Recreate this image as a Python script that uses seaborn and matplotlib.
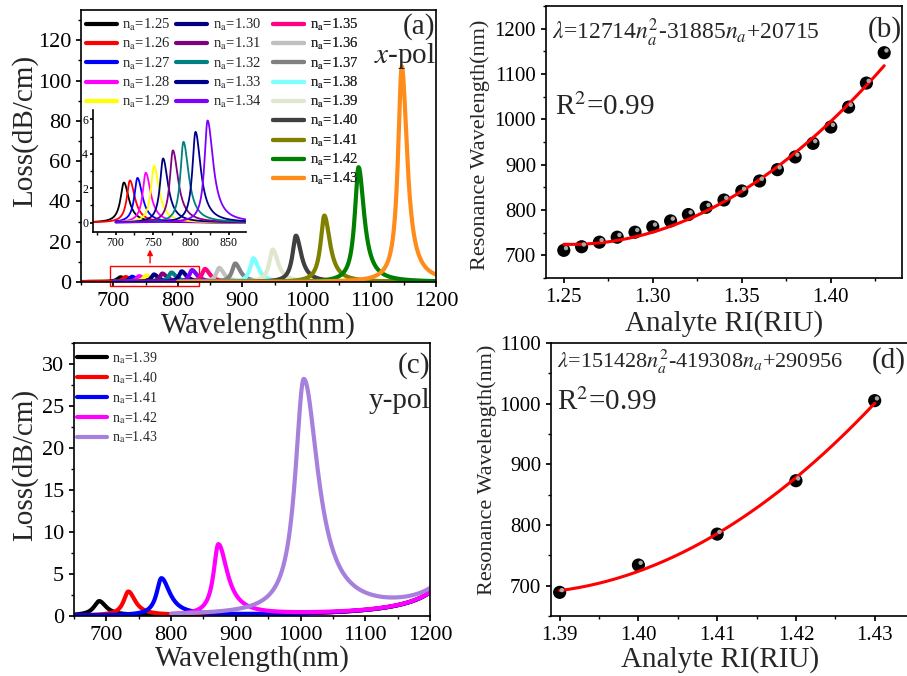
import matplotlib
matplotlib.use("Agg")
import matplotlib.pyplot as plt
import matplotlib.patches as patches
from matplotlib.lines import Line2D
from matplotlib.ticker import MultipleLocator
from matplotlib.transforms import offset_copy
import numpy as np
import pandas as pd
import seaborn as sns

## Data
# x-pol: analyte RI, resonance wavelength (nm), peak loss (dB/cm), half widths (nm)
ri_x = [1.25, 1.26, 1.27, 1.28, 1.29, 1.30, 1.31, 1.32, 1.33, 1.34,
        1.35, 1.36, 1.37, 1.38, 1.39, 1.40, 1.41, 1.42, 1.43]
res_x = [711, 719, 729, 740, 751, 763, 776, 790, 806, 822,
         842, 864, 889, 917, 947, 983, 1027, 1080, 1147]
peak_x = [2.33, 2.45, 2.6, 2.9, 3.3, 3.73, 4.2, 4.7, 5.28, 5.94,
          6.5, 7.0, 9.2, 11.8, 16.1, 23.0, 33.0, 57.0, 107.0]
hw_left_x = [5.5, 5, 5, 5, 5, 5, 5, 5, 5, 5,
             5.5, 5.5, 6, 6, 6.5, 6.5, 7, 7, 7]
hw_right_x = [8, 8, 8, 8, 8, 8, 8.5, 8.5, 8.5, 9,
              9, 9, 9.5, 9.5, 10, 10, 10.5, 10.5, 10]
start_x = [660, 650, 700, 700, 700, 700, 700, 700, 700, 700,
           800, 800, 800, 800, 800, 800, 800, 800, 800]
colors_x = ["#000000", "#ff0000", "#0000ff", "#ff00ff", "#ffff00", "#000080",
            "#800080", "#008080", "#00008b", "#8000ff", "#ff0080", "#c0c0c0",
            "#808080", "#80ffff", "#dfe8cf", "#404040", "#808000", "#008000",
            "#ff8c1a"]
fit_x = [12714, -31885, 20715]

# y-pol
ri_y = [1.39, 1.40, 1.41, 1.42, 1.43]
res_y = [689, 734, 785, 873, 1005]
peak_y = [1.7, 2.83, 4.4, 8.4, 27.9]
hw_left_y = [10, 9, 9, 9, 16]
hw_right_y = [13, 13, 16, 17, 27]
start_y = [650, 650, 650, 800, 800]
colors_y = ["#000000", "#ff0000", "#0000ff", "#ff00ff", "#a77fdc"]
fit_y = [151428, -419308, 290956]
# rising loss background towards long wavelengths (y-pol)
bg_center, bg_width, bg_height = 1290, 40, 17


def spectra(ri, res, peak, hwl, hwr, start, bg=None):
    wl = np.arange(650, 1200.5, 0.5)
    frames = []
    for r, c, h, wa, wb, x0 in zip(ri, res, peak, hwl, hwr, start):
        x = wl[wl >= x0]
        w = np.where(x < c, wa, wb)
        y = h / (1 + ((x - c) / w) ** 2)
        if bg is not None:
            y = y + bg[2] / (1 + ((x - bg[0]) / bg[1]) ** 2)
        frames.append(pd.DataFrame({"wl": x, "loss": y, "ri": f"{r:.2f}"}))
    return pd.concat(frames, ignore_index=True)


df_x = spectra(ri_x, res_x, peak_x, hw_left_x, hw_right_x, start_x)
df_y = spectra(ri_y, res_y, peak_y, hw_left_y, hw_right_y, start_y,
               bg=(bg_center, bg_width, bg_height))
pal_x = dict(zip([f"{r:.2f}" for r in ri_x], colors_x))
pal_y = dict(zip([f"{r:.2f}" for r in ri_y], colors_y))

sns.set_theme(style="ticks")
plt.rcParams["font.family"] = ["Liberation Serif", "DejaVu Serif"]
plt.rcParams["mathtext.fontset"] = "stix"
plt.rcParams["axes.linewidth"] = 1.2
plt.rcParams["axes.edgecolor"] = "black"
plt.rcParams["xtick.color"] = "black"
plt.rcParams["ytick.color"] = "black"
plt.rcParams["xtick.major.size"] = 3.6
plt.rcParams["ytick.major.size"] = 3.6
plt.rcParams["xtick.minor.size"] = 2.2
plt.rcParams["ytick.minor.size"] = 2.2

W, H = 907, 676
fig = plt.figure(figsize=(W / 100, H / 100), dpi=100)


def box(l, t, r, b):
    return [l / W, 1 - b / H, (r - l) / W, (b - t) / H]


ax_a = fig.add_axes(box(81, 10, 436, 282))
ax_b = fig.add_axes(box(546, 6, 902, 278))
ax_c = fig.add_axes(box(74, 343, 430, 616))
ax_d = fig.add_axes(box(551, 343, 907, 616))
ax_in = fig.add_axes(box(93, 110, 246, 232))

for ax in (ax_a, ax_b, ax_c, ax_d):
    for s in ax.spines.values():
        s.set_visible(True)
        s.set_color("black")

# (a) x-pol spectra
sns.lineplot(data=df_x, x="wl", y="loss", hue="ri", palette=pal_x,
             linewidth=3, legend=False, estimator=None, ax=ax_a)
ax_a.set_xlim(650, 1200)
ax_a.set_ylim(0, 135)
ax_a.xaxis.set_major_locator(MultipleLocator(100))
ax_a.xaxis.set_minor_locator(MultipleLocator(50))
ax_a.yaxis.set_major_locator(MultipleLocator(20))
ax_a.yaxis.set_minor_locator(MultipleLocator(10))
ax_a.tick_params(labelsize=16, which="both")
ax_a.set_xlabel("Wavelength(nm)", fontsize=21, va="center")
ax_a.set_ylabel("Loss(dB/cm)", fontsize=21, va="center")
ax_a.xaxis.set_label_coords(0.5, -0.16)
ax_a.yaxis.set_label_coords(-0.158, 0.555)
fig.text(435 / W, 1 - 34 / H, "(a)", fontsize=21, ha="right", va="baseline")
fig.text(436 / W, 1 - 63 / H, r"$x$-pol", fontsize=21, ha="right", va="baseline")

labels_x = [r"n$_{\rm a}$=" + f"{r:.2f}" for r in ri_x]
handles_x = [Line2D([], [], color=c, lw=3) for c in colors_x]
cols = [(0, 5, 0.014), (5, 10, 0.268), (10, 19, 0.541)]
for i0, i1, xa in cols:
    leg = ax_a.legend(handles_x[i0:i1], labels_x[i0:i1], loc="upper left",
                      bbox_to_anchor=(xa, 0.975), frameon=False, fontsize=10.5,
                      handlelength=2.1, handletextpad=0.4, labelspacing=0.22,
                      borderpad=0, borderaxespad=0)
    ax_a.add_artist(leg)

ax_a.add_patch(patches.Rectangle((695, -1.8), 138, 9.9, fill=False,
                                 ec="red", lw=1, clip_on=False))
ax_a.annotate("", xy=(757, 17.5), xytext=(757, 8.1),
              arrowprops=dict(arrowstyle="-|>", color="red", lw=1,
                              mutation_scale=8))

# inset
df_in = df_x[(df_x["ri"].astype(float) <= 1.34) & (df_x["wl"] <= 873)]
sns.lineplot(data=df_in, x="wl", y="loss", hue="ri", palette=pal_x,
             linewidth=1.3, legend=False, estimator=None, ax=ax_in)
ax_in.set_xlim(670, 873)
ax_in.set_ylim(-0.55, 6.55)
ax_in.patch.set_alpha(0)
ax_in.spines["top"].set_visible(False)
ax_in.spines["right"].set_visible(False)
ax_in.xaxis.set_major_locator(MultipleLocator(50))
ax_in.xaxis.set_minor_locator(MultipleLocator(25))
ax_in.yaxis.set_major_locator(MultipleLocator(2))
ax_in.yaxis.set_minor_locator(MultipleLocator(1))
ax_in.tick_params(labelsize=8.5, which="both", length=2, pad=1.5)
ax_in.set_xlabel("")
ax_in.set_ylabel("")

# (b) x-pol fit
n_b = np.linspace(ri_x[0], ri_x[-1], 200)
sns.scatterplot(x=ri_x, y=res_x, color="black", s=90, edgecolor="none", ax=ax_b)
ax_b.scatter(ri_x, res_x, s=10, color="#a8a8a8", edgecolor="none", zorder=3,
             transform=offset_copy(ax_b.transData, fig=fig, x=1.6, y=1.6, units="points"))
sns.lineplot(x=n_b, y=np.polyval(fit_x, n_b), color="red", linewidth=2.2, ax=ax_b)
ax_b.set_xlim(1.24, 1.44)
ax_b.set_ylim(650, 1250)
ax_b.xaxis.set_major_locator(MultipleLocator(0.05))
ax_b.xaxis.set_minor_locator(MultipleLocator(0.025))
ax_b.yaxis.set_major_locator(MultipleLocator(100))
ax_b.yaxis.set_minor_locator(MultipleLocator(50))
ax_b.tick_params(labelsize=15, which="both")
ax_b.set_xlabel("Analyte RI(RIU)", fontsize=21, va="center")
ax_b.set_ylabel("Resonance Wavelength(nm)", fontsize=16, va="center")
ax_b.xaxis.set_label_coords(0.5, -0.166)
ax_b.yaxis.set_label_coords(-0.186, 0.49)
fig.text(552 / W, 1 - 40 / H, r"$\lambda$=12714$n_a^2$-31885$n_a$+20715",
         fontsize=17, ha="left", va="baseline")
fig.text(555 / W, 1 - 115 / H, r"R$^2$=0.99", fontsize=21, ha="left", va="baseline")
fig.text(902 / W, 1 - 37 / H, "(b)", fontsize=21, ha="right", va="baseline")

# (c) y-pol spectra
sns.lineplot(data=df_y, x="wl", y="loss", hue="ri", palette=pal_y,
             linewidth=3, legend=False, estimator=None, ax=ax_c)
ax_c.set_xlim(650, 1200)
ax_c.set_ylim(0, 32.5)
ax_c.xaxis.set_major_locator(MultipleLocator(100))
ax_c.xaxis.set_minor_locator(MultipleLocator(50))
ax_c.yaxis.set_major_locator(MultipleLocator(5))
ax_c.yaxis.set_minor_locator(MultipleLocator(2.5))
ax_c.tick_params(labelsize=16, which="both")
ax_c.set_xlabel("Wavelength(nm)", fontsize=21, va="center")
ax_c.set_ylabel("Loss(dB/cm)", fontsize=21, va="center")
ax_c.xaxis.set_label_coords(0.5, -0.156)
ax_c.yaxis.set_label_coords(-0.138, 0.553)
labels_y = [r"n$_{\rm a}$=" + f"{r:.2f}" for r in ri_y]
handles_y = [Line2D([], [], color=c, lw=3) for c in colors_y]
ax_c.legend(handles_y, labels_y, loc="upper left", bbox_to_anchor=(0.008, 0.975),
            frameon=False, fontsize=10, handlelength=2.2, handletextpad=0.35,
            labelspacing=0.3, borderpad=0, borderaxespad=0)
fig.text(430 / W, 1 - 373 / H, "(c)", fontsize=21, ha="right", va="baseline")
fig.text(430 / W, 1 - 408 / H, "y-pol", fontsize=21, ha="right", va="baseline")

# (d) y-pol fit
n_d = np.linspace(ri_y[0], ri_y[-1], 200)
sns.scatterplot(x=ri_y, y=res_y, color="black", s=90, edgecolor="none", ax=ax_d)
ax_d.scatter(ri_y, res_y, s=10, color="#a8a8a8", edgecolor="none", zorder=3,
             transform=offset_copy(ax_d.transData, fig=fig, x=1.6, y=1.6, units="points"))
sns.lineplot(x=n_d, y=np.polyval(fit_y, n_d), color="red", linewidth=2.2, ax=ax_d)
ax_d.set_xlim(1.3889, 1.4341)
ax_d.set_ylim(650, 1100)
ax_d.spines["right"].set_visible(False)
ax_d.xaxis.set_major_locator(MultipleLocator(0.01))
ax_d.xaxis.set_minor_locator(MultipleLocator(0.005))
ax_d.yaxis.set_major_locator(MultipleLocator(100))
ax_d.yaxis.set_minor_locator(MultipleLocator(50))
ax_d.tick_params(labelsize=15, which="both")
ax_d.set_xlabel("Analyte RI(RIU)", fontsize=21, va="center")
ax_d.set_ylabel("Resonance Wavelength(nm)", fontsize=16, va="center")
ax_d.xaxis.set_label_coords(0.475, -0.158)
ax_d.yaxis.set_label_coords(-0.18, 0.535)
fig.text(557 / W, 1 - 368 / H, r"$\lambda$=151428$n_a^2$-419308$n_a$+290956",
         fontsize=16, ha="left", va="baseline")
fig.text(557 / W, 1 - 410 / H, r"R$^2$=0.99", fontsize=21, ha="left", va="baseline")
fig.text(906 / W, 1 - 368 / H, "(d)", fontsize=21, ha="right", va="baseline")

fig.savefig("out.png", dpi=100)
